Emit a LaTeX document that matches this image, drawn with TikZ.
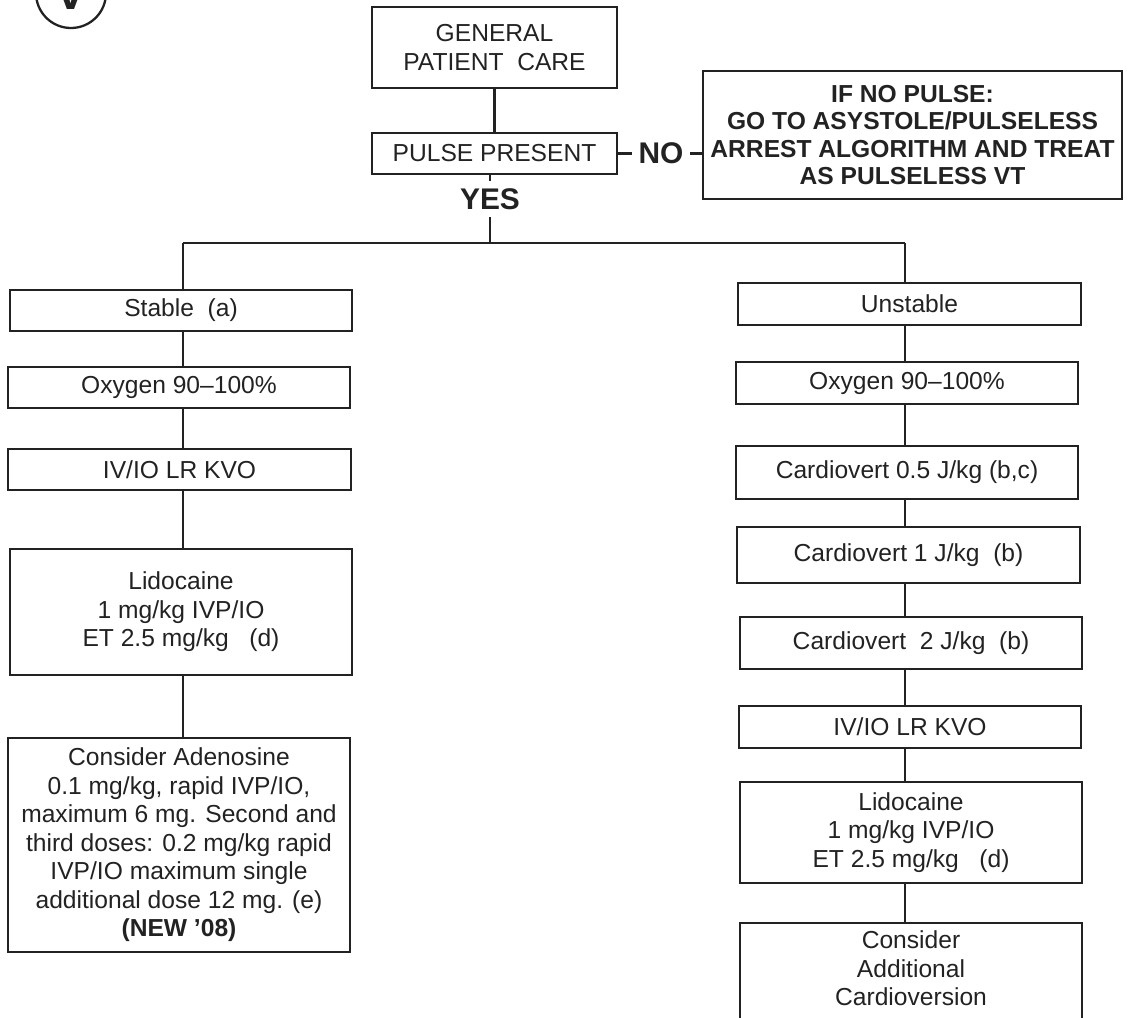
\documentclass[tikz,border=0pt]{standalone}
\usepackage{fontspec}
\setmainfont{Liberation Sans}
\usepackage{xcolor}
\usepackage{tikz}
\usetikzlibrary{positioning, calc}
\definecolor{myink}{RGB}{34,34,34}
\tikzset{
  box/.style={rectangle, draw=myink, text=myink, line width=1.3pt,
    align=center, inner sep=0pt, font=\fontsize{14}{16.2}\selectfont},
  alertbox/.style={rectangle, draw=myink, text=myink, line width=1.3pt,
    align=center, inner sep=0pt, font=\fontsize{14}{15.5}\selectfont\bfseries},
  answer/.style={text=myink, inner sep=0pt, font=\fontsize{17}{20}\selectfont\bfseries},
  link/.style={draw=myink, line width=1.4pt}
}

\begin{document}
\begin{tikzpicture}
  \useasboundingbox (0,0) rectangle (22.64,-20.34);

  % Protocol mark (cut by the page edge)
  \node[draw=myink, text=myink, circle, line width=1.3pt, minimum size=1.4cm, inner sep=0pt,
    font=\fontsize{28}{30}\selectfont\bfseries] (vmark) at (1.42, 0.14) {V};

  % Top of the chart
  \node[box, minimum width=4.9cm, minimum height=1.62cm] (gpc) at (9.89, -0.95) {GENERAL\\PATIENT\ \ CARE};
  \node[box, minimum width=4.9cm, minimum height=0.82cm] (pulse) at (9.89, -3.07) {PULSE PRESENT};
  \node[alertbox, minimum width=8.38cm, minimum height=2.56cm] (nopulse) at (18.25, -2.70) {
    IF NO PULSE:\\
    GO TO ASYSTOLE/PULSELESS\\
    ARREST ALGORITHM AND TREAT\\
    AS PULSELESS VT
  };
  \node[answer, minimum width=1.16cm, minimum height=0.7cm] (no) at (13.22, -3.07) {NO};
  \node[answer, minimum height=0.7cm] (yes) at (9.8, -3.98) {YES};

  % Branch points
  \coordinate (tbus) at (9.8, -4.86);
  \coordinate (lbus) at (3.66, -4.86);
  \coordinate (rbus) at (18.1, -4.86);

  % Stable branch
  \node[box, minimum width=6.84cm, minimum height=0.82cm] (stable) at (3.62, -6.21) {Stable\ \ (a)};
  \node[box, minimum width=6.84cm, minimum height=0.82cm] (oxyL) at (3.58, -7.75) {Oxygen 90--100\%};
  \node[box, minimum width=6.86cm, minimum height=0.82cm] (ivL) at (3.59, -9.39) {IV/IO LR KVO};
  \node[box, minimum width=6.84cm, minimum height=2.52cm] (lidoL) at (3.62, -12.24) {
    Lidocaine\\
    1 mg/kg IVP/IO\\
    ET 2.5 mg/kg\ \ \ (d)
  };
  \node[box, minimum width=6.84cm, minimum height=4.28cm] (adeno) at (3.58, -16.9) {
    Consider Adenosine\\
    0.1 mg/kg, rapid IVP/IO,\\
    maximum 6 mg. Second and\\
    third doses: 0.2 mg/kg rapid\\
    IVP/IO maximum single\\
    additional dose 12 mg. (e)\\
    \textbf{(NEW ’08)}
  };

  % Unstable branch
  \node[box, minimum width=6.86cm, minimum height=0.84cm] (unstable) at (18.19, -6.08) {Unstable};
  \node[box, minimum width=6.84cm, minimum height=0.84cm] (oxyR) at (18.14, -7.66) {Oxygen 90--100\%};
  \node[box, minimum width=6.84cm, minimum height=1.06cm] (cv05) at (18.14, -9.45) {Cardiovert 0.5 J/kg (b,c)};
  \node[box, minimum width=6.86cm, minimum height=1.12cm] (cv1) at (18.17, -11.1) {Cardiovert 1 J/kg\ \ (b)};
  \node[box, minimum width=6.84cm, minimum height=1.04cm] (cv2) at (18.22, -12.86) {Cardiovert\ \ 2 J/kg\ \ (b)};
  \node[box, minimum width=6.84cm, minimum height=0.84cm] (ivR) at (18.2, -14.54) {IV/IO LR KVO};
  \node[box, minimum width=6.84cm, minimum height=2.02cm] (lidoR) at (18.22, -16.65) {
    Lidocaine\\
    1 mg/kg IVP/IO\\
    ET 2.5 mg/kg\ \ \ (d)
  };
  \node[box, minimum width=6.84cm, inner ysep=0.16cm, anchor=north] (addcv) at (18.22, -18.44) {
    Consider\\
    Additional\\
    Cardioversion\\[0.2cm]
    \mbox{}
  };

  % Connectors
  \draw[link] (gpc) -- (pulse);
  \draw[link] (pulse.east) -- (no.west);
  \draw[link] (no.east) -- (no.east -| nopulse.west);
  \draw[link] (pulse.south -| yes) -- (yes.north);
  \draw[link] (yes.south) -- (tbus);
  \draw[link] (lbus) -- (rbus);
  \draw[link] (lbus) -- (stable.north -| lbus);
  \draw[link] (rbus) -- (unstable.north -| rbus);
  \foreach \a/\b in {stable/oxyL, oxyL/ivL, ivL/lidoL, lidoL/adeno}
    \draw[link] (\a.south -| lbus) -- (\b.north -| lbus);
  \foreach \a/\b in {unstable/oxyR, oxyR/cv05, cv05/cv1, cv1/cv2, cv2/ivR, ivR/lidoR, lidoR/addcv}
    \draw[link] (\a.south -| rbus) -- (\b.north -| rbus);
\end{tikzpicture}
\end{document}
